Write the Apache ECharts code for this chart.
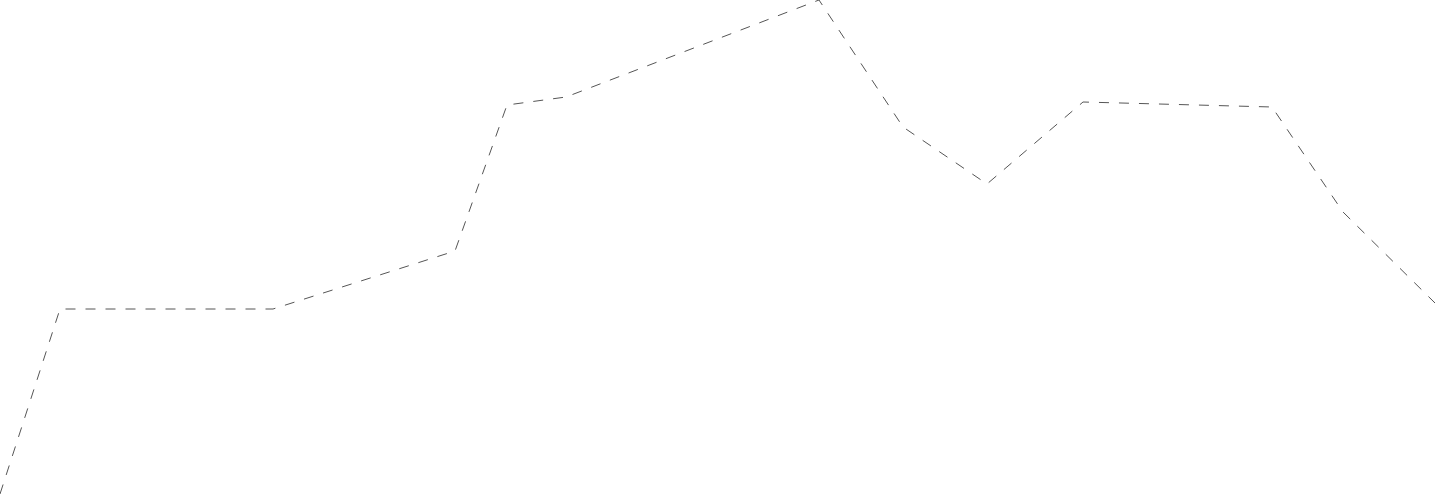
<!DOCTYPE html>
<html>
<head>
<meta charset="utf-8">
<script src="https://cdn.jsdelivr.net/npm/echarts@6/dist/echarts.min.js"></script>
<style>
html,body{margin:0;padding:0;background:#fff;}
#chart{width:1435px;height:494px;}
</style>
</head>
<body>
<div id="chart"></div>
<script>
const xValues = [0, 60, 273, 455, 507, 566, 819, 903, 987, 1083, 1272, 1343, 1435];
const yValues = [0, 185, 185, 243, 389, 397, 494, 367, 310, 392, 387, 282, 191];

const chart = echarts.init(document.getElementById('chart'));
chart.setOption({
  animation: false,
  grid: {left: 0, right: 0, top: 0, bottom: 0},
  xAxis: {type: 'value', min: 0, max: 1435, show: false},
  yAxis: {type: 'value', min: 0, max: 494, show: false},
  series: [{
    type: 'line',
    data: xValues.map((x, i) => [x, yValues[i]]),
    showSymbol: false,
    symbol: 'none',
    lineStyle: {color: '#555', width: 1, type: [10, 10]}
  }]
});
</script>
</body>
</html>
